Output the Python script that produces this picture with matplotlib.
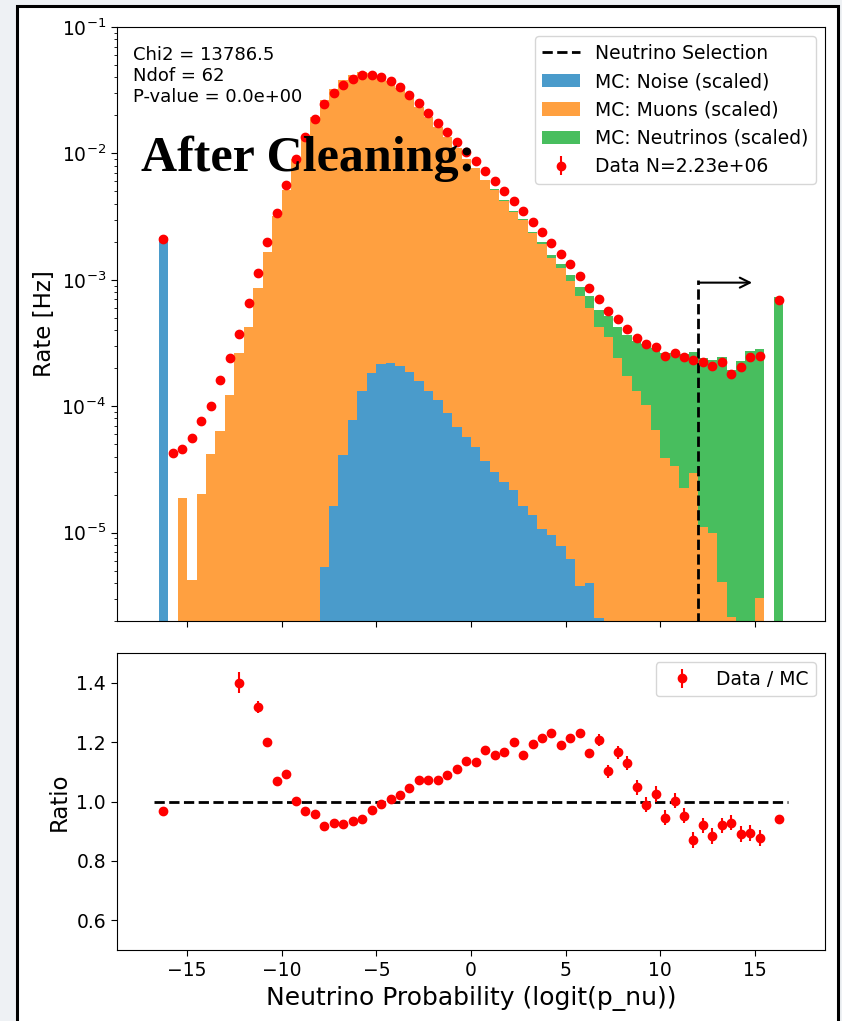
import numpy as np
import matplotlib
matplotlib.use("Agg")
import matplotlib.pyplot as plt
from matplotlib.patches import Rectangle

plt.rcParams['font.family'] = ['DejaVu Sans']
plt.rcParams['font.size'] = 13
plt.rcParams['xtick.labelsize'] = 13.5
plt.rcParams['ytick.labelsize'] = 13.5
plt.rcParams['xtick.major.size'] = 4.5
plt.rcParams['ytick.major.size'] = 4.5

# ---------------- data ----------------
bin_edges = np.arange(-16.5, 16.51, 0.5)
centers = 0.5 * (bin_edges[:-1] + bin_edges[1:])

noise = [2.17e-3] + [0.0] * 16 + [
    5.35e-6, 1.62e-5, 4.09e-5, 7.74e-5, 1.33e-4, 1.82e-4, 2.15e-4, 2.20e-4,
    2.09e-4, 1.86e-4, 1.57e-4, 1.32e-4, 1.12e-4, 8.9e-5, 6.84e-5, 5.75e-5,
    4.79e-5, 3.67e-5, 3.02e-5, 2.52e-5, 2.17e-5, 1.61e-5, 1.39e-5, 1.06e-5,
    9.6e-6, 7.85e-6, 6.24e-6, 3.76e-6, 3.98e-6, 2.1e-6] + [0.0] * 19

muons = [
    0.0, 0.0, 1.89e-5, 4.25e-6, 2.04e-5, 4.17e-5, 6.38e-5, 1.22e-4,
    2.64e-4, 4.25e-4, 8.58e-4, 1.66e-3, 3.18e-3, 5.128e-3, 8.977e-3, 1.383e-2,
    1.943e-2, 2.659e-2, 3.237e-2, 3.785e-2, 4.171e-2, 4.395e-2, 4.310e-2, 4.017e-2,
    3.696e-2, 3.277e-2, 2.779e-2, 2.312e-2, 1.924e-2, 1.616e-2, 1.348e-2, 1.090e-2,
    8.975e-3, 7.582e-3, 6.130e-3, 5.114e-3, 4.215e-3, 3.414e-3, 2.954e-3, 2.330e-3,
    1.895e-3, 1.475e-3, 1.227e-3, 9.79e-4, 7.38e-4, 5.90e-4, 4.22e-4, 3.54e-4,
    2.40e-4, 1.73e-4, 1.31e-4, 1.02e-4, 6.5e-5, 3.93e-5, 3.39e-5, 2.27e-5,
    2.97e-5, 1.10e-5, 9.9e-6, 4.1e-6, 2.15e-6, 0.0, 0.0, 3.05e-6, 0.0, 0.0]

neutrinos = [0.0] * 13 + [
    2e-6, 3e-6, 4e-6, 6e-6, 8e-6, 1.0e-5, 1.2e-5, 1.4e-5, 1.6e-5, 1.8e-5,
    2.0e-5, 2.2e-5, 2.4e-5, 2.6e-5, 2.8e-5, 3.0e-5, 3.2e-5, 3.4e-5, 3.6e-5,
    3.8e-5, 4.0e-5, 4.3e-5, 4.6e-5, 5.0e-5, 5.4e-5, 6.0e-5, 6.6e-5, 7.4e-5,
    9.0e-5, 1.05e-4, 1.15e-4, 1.35e-4, 1.50e-4, 1.55e-4, 1.63e-4, 1.80e-4,
    1.90e-4, 2.00e-4, 2.10e-4, 2.23e-4, 2.25e-4, 2.31e-4, 2.34e-4, 2.39e-4,
    2.30e-4, 2.24e-4, 2.39e-4, 1.91e-4, 2.29e-4, 2.74e-4, 2.83e-4, 0.0, 7.34e-4]

data = [
    2.10e-3, 4.27e-5, 4.6e-5, 5.6e-5, 7.7e-5, 1.0e-4, 1.6e-4, 2.4e-4,
    3.7e-4, 6.5e-4, 1.13e-3, 1.99e-3, 3.4e-3, 5.6e-3, 9.0e-3, 1.34e-2,
    1.86e-2, 2.44e-2, 3.0e-2, 3.5e-2, 3.9e-2, 4.15e-2, 4.2e-2, 4.0e-2,
    3.75e-2, 3.37e-2, 2.92e-2, 2.5e-2, 2.08e-2, 1.75e-2, 1.48e-2, 1.22e-2,
    1.03e-2, 8.7e-3, 7.3e-3, 6.0e-3, 5.0e-3, 4.2e-3, 3.5e-3, 2.88e-3,
    2.4e-3, 1.94e-3, 1.6e-3, 1.34e-3, 1.08e-3, 8.65e-4, 7.0e-4, 5.7e-4,
    4.9e-4, 4.1e-4, 3.47e-4, 3.09e-4, 2.95e-4, 2.5e-4, 2.66e-4, 2.45e-4,
    2.34e-4, 2.22e-4, 2.07e-4, 2.24e-4, 1.79e-4, 2.04e-4, 2.45e-4, 2.51e-4,
    np.nan, 6.9e-4]

nan = np.nan
ratio = [
    0.967, nan, nan, nan, nan, nan, nan, nan,
    1.40, nan, 1.317, 1.199, 1.069, 1.091, 1.002, 0.969,
    0.957, 0.918, 0.927, 0.924, 0.934, 0.940, 0.970, 0.990,
    1.009, 1.021, 1.044, 1.071, 1.073, 1.073, 1.090, 1.108,
    1.135, 1.134, 1.175, 1.155, 1.166, 1.202, 1.155, 1.193,
    1.214, 1.232, 1.190, 1.215, 1.232, 1.163, 1.208, 1.102,
    1.165, 1.130, 1.048, 0.989, 1.025, 0.946, 1.003, 0.952,
    0.871, 0.920, 0.884, 0.920, 0.929, 0.890, 0.894, 0.877,
    nan, 0.940]

ratio_err = [0.006, 0, 0, 0, 0, 0, 0, 0, 0.036, 0, 0.02, 0.012, 0.008, 0.006] + \
    [0.004] * 27 + [0.006, 0.007, 0.008, 0.010, 0.013, 0.020, 0.022, 0.022,
                    0.024, 0.025] + [0.026] * 13 + [0.0, 0.012]

stats_text = "Chi2 = 13786.5\nNdof = 62\nP-value = 0.0e+00"
labels = ["MC: Noise (scaled)", "MC: Muons (scaled)", "MC: Neutrinos (scaled)"]
colors = ["#4a9bcb", "#ffa040", "#48be5e"]

data_err = np.nan_to_num(np.array(ratio_err) * np.array(data) / np.array(ratio))

# ---------------- figure ----------------
W, H = 842, 1021
fig = plt.figure(figsize=(W / 100, H / 100), dpi=100)
fig.patch.set_facecolor("#eef1f4")
frame = Rectangle((17 / W, -0.05), (838 - 17) / W, 1.05 - 6 / H,
                  transform=fig.transFigure, facecolor="white",
                  edgecolor="black", lw=2.2, zorder=-10)
fig.patches.append(frame)

ax1 = fig.add_axes([117 / W, 1 - 621 / H, (825 - 117) / W, (621 - 27) / H])
ax2 = fig.add_axes([117 / W, 1 - 950 / H, (825 - 117) / W, (950 - 653) / H],
                   sharex=ax1)

# top panel
sel_line, = ax1.plot([12, 12], [1e-7, 1e-3], "k--", lw=2,
                     label="Neutrino Selection")
_, _, hist_patches = ax1.hist([centers] * 3, bins=bin_edges,
                              weights=[noise, muons, neutrinos],
                              stacked=True, histtype="stepfilled",
                              color=colors, label=labels)
data_cont = ax1.errorbar(centers, data, yerr=data_err, fmt="o", color="red",
                         ms=6, label="Data N=2.23e+06", zorder=5)
ax1.annotate("", xy=(14.85, 9.5e-4), xytext=(12.05, 9.5e-4),
             arrowprops=dict(arrowstyle="->", color="k", lw=1.5,
                             shrinkA=0, shrinkB=0, mutation_scale=18))
ax1.set_yscale("log")
ax1.set_ylim(2e-6, 1e-1)
ax1.set_xlim(-18.7, 18.7)
ax1.set_ylabel("Rate [Hz]", fontsize=16.5)
ax1.tick_params(labelbottom=False)
ax1.text(0.022, 0.968, stats_text, transform=ax1.transAxes, va="top",
         ha="left", fontsize=13)
handles = [sel_line] + [p[0] for p in hist_patches] + [data_cont]
ax1.legend(handles, ["Neutrino Selection"] + labels + ["Data N=2.23e+06"],
           loc="upper right", fontsize=13.5)

# ratio panel
ax2.plot([-16.75, 16.75], [1, 1], "k--", lw=2)
ax2.errorbar(centers, ratio, yerr=ratio_err, fmt="o", color="red", ms=6,
             label="Data / MC")
ax2.set_ylim(0.5, 1.5)
ax2.set_yticks([0.6, 0.8, 1.0, 1.2, 1.4])
ax2.set_ylabel("Ratio", fontsize=16.5)
ax2.set_xlabel("Neutrino Probability (logit(p_nu))", fontsize=18)
ax2.set_xticks([-15, -10, -5, 0, 5, 10, 15])
ax2.legend(loc="upper right", fontsize=13.5)

fig.text(141 / W, 1 - 171 / H, "After Cleaning:", fontsize=36,
         fontweight="bold", family=["Liberation Serif", "DejaVu Serif"],
         va="baseline", ha="left", zorder=20)

fig.savefig("out.png", dpi=100, facecolor=fig.get_facecolor())
